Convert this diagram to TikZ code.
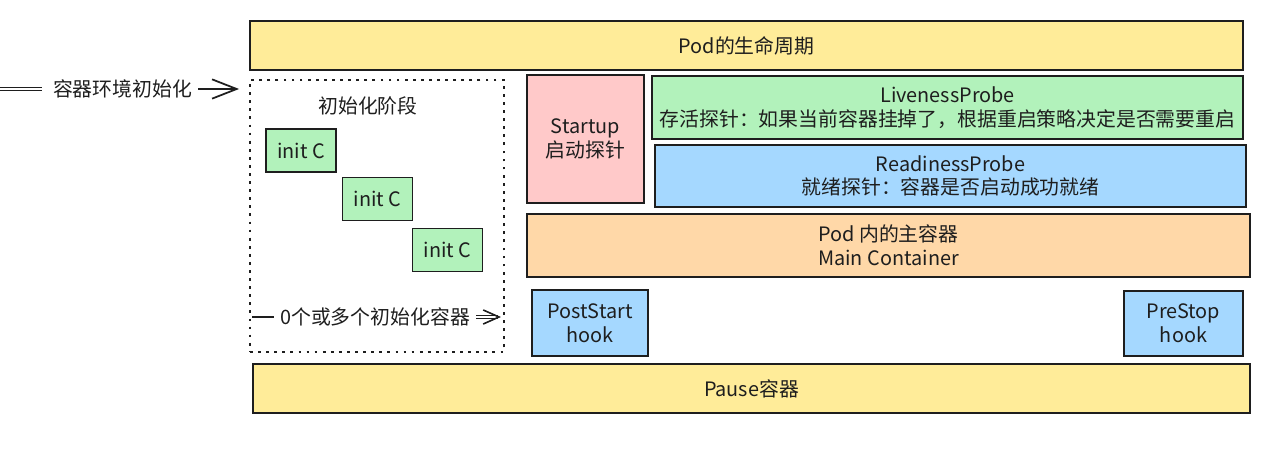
\documentclass[tikz,border=0pt]{standalone}
\usepackage{fontspec}
\setmainfont{Noto Sans CJK SC}
\usetikzlibrary{arrows.meta}
\definecolor{podyellow}{HTML}{FFEC99}
\definecolor{probegreen}{HTML}{B2F2BB}
\definecolor{probeblue}{HTML}{A5D8FF}
\definecolor{startpink}{HTML}{FFC9C9}
\definecolor{mainorange}{HTML}{FFD8A8}
\definecolor{inkgray}{HTML}{1E1E1E}

\begin{document}
\begin{tikzpicture}[x=0.02cm,y=-0.02cm,
  every node/.style={font=\fontsize{11.3}{13.5}\selectfont,text=inkgray},
  box/.style={draw=inkgray,line width=0.8pt,align=center,inner sep=0pt},
  barb/.style={-{Straight Barb[length=14pt,width=11pt,line width=1pt]}}]
  \useasboundingbox (0,0) rectangle (1280,449);
  \node[box,fill=podyellow,minimum width=19.86cm,minimum height=0.98cm] (pod) at (746.5,45.5) {Pod的生命周期};
  % init phase
  \node[draw=inkgray,line width=1.1pt,dash pattern=on 1.6pt off 3pt,
        minimum width=5.08cm,minimum height=5.44cm,inner sep=0pt] (initbox) at (377,216) {};
  \node (initlbl) at (368,106) {初始化阶段};
  \foreach \i/\x/\y in {1/301/150.5,2/377.5/199,3/447.5/250}
    \node[box,fill=probegreen,minimum width=1.4cm,minimum height=0.86cm] (init\i) at (\x,\y) {init C};
  \coordinate (envstart) at (0,89);
  \node (envlbl) at (122.5,89) {容器环境初始化};
  \draw[inkgray,double,double distance=1pt] (envstart) -- ([xshift=-0.1cm]envlbl.west);
  \draw[inkgray,line width=1pt,barb] (envlbl.east) -- ([xshift=-0.2cm]initbox.west |- envlbl);
  \coordinate (countstart) at (252,317);
  \node (countlbl) at (375,317) {0个或多个初始化容器};
  \draw[inkgray,line width=0.9pt] (countstart) -- (countlbl.west);
  \draw[inkgray,double,double distance=1pt,-{Straight Barb[length=9pt,width=8pt,line width=0.9pt]}]
    (countlbl.east) -- ([xshift=-0.08cm]initbox.east |- countlbl);
  % probes and containers
  \node[box,fill=startpink,minimum width=2.34cm,minimum height=2.56cm] (startup) at (585.5,139) {Startup\\启动探针};
  \node[box,fill=probegreen,minimum width=11.82cm,minimum height=1.26cm] (live) at (947.5,107.5)
    {LivenessProbe\\存活探针：如果当前容器挂掉了，根据重启策略决定是否需要重启};
  \node[box,fill=probeblue,minimum width=11.82cm,minimum height=1.24cm] (ready) at (950.5,176)
    {ReadinessProbe\\就绪探针：容器是否启动成功就绪};
  \node[box,fill=mainorange,minimum width=14.46cm,minimum height=1.26cm] (main) at (888.5,245.5)
    {Pod 内的主容器\\Main Container};
  \node[box,fill=probeblue,minimum width=2.32cm,minimum height=1.32cm] (poststart) at (590,323) {PostStart\\hook};
  \node[box,fill=probeblue,minimum width=2.38cm,minimum height=1.3cm] (prestop) at (1183.5,323.5) {PreStop\\hook};
  \node[box,fill=podyellow,minimum width=19.94cm,minimum height=0.98cm] (pause) at (751.5,388.5) {Pause容器};
\end{tikzpicture}
\end{document}
